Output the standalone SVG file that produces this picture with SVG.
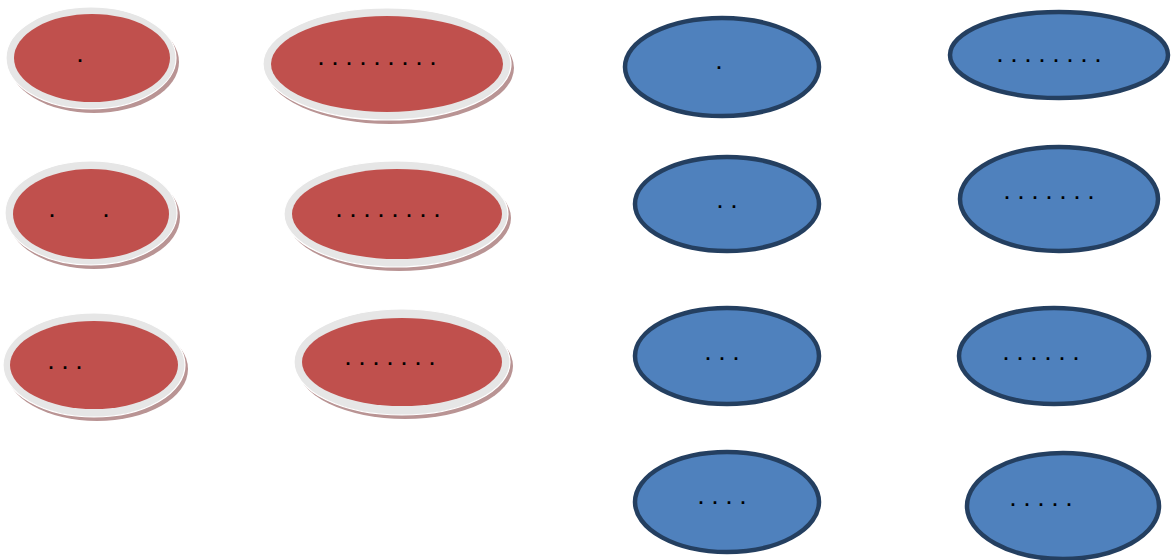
<svg xmlns="http://www.w3.org/2000/svg" width="1172" height="560" viewBox="0 0 1172 560">
<style>
.sh{fill:#b99494}
.ring{fill:#e6e6e6;stroke:#ffffff;stroke-width:1.2}
.red{fill:#c0504d}
.blue{fill:#4f81bd;stroke:#243f60;stroke-width:4.5}
.t{font-family:"Liberation Sans",Arial,sans-serif;font-size:18px;font-weight:bold;fill:#000}
</style>
<rect width="1172" height="560" fill="#ffffff"/>
<g id="connectors"></g>
<g id="r1">
<ellipse class="sh" cx="94" cy="62" rx="85" ry="51"/>
<ellipse class="ring" cx="91" cy="58" rx="85" ry="51"/>
<ellipse class="red" cx="92" cy="58" rx="78" ry="44"/>
<text class="t" x="77.5" y="62">.</text>
</g>
<g id="r2">
<ellipse class="sh" cx="390" cy="68" rx="124" ry="56"/>
<ellipse class="ring" cx="387" cy="64" rx="124" ry="56"/>
<ellipse class="red" cx="387" cy="64" rx="116" ry="48"/>
<text class="t" x="318.5 332.5 346.5 360.5 374.5 388.5 402.5 416.5 430.5" y="65">.........</text>
</g>
<g id="r3">
<ellipse class="sh" cx="94" cy="217" rx="86" ry="52"/>
<ellipse class="ring" cx="91" cy="213" rx="86" ry="52"/>
<ellipse class="red" cx="91" cy="214" rx="78" ry="45"/>
<text class="t" x="49.5 103.5" y="217">..</text>
</g>
<g id="r4">
<ellipse class="sh" cx="399" cy="218" rx="112" ry="53"/>
<ellipse class="ring" cx="396" cy="214" rx="112" ry="53"/>
<ellipse class="red" cx="397" cy="214" rx="105" ry="45"/>
<text class="t" x="336.5 350.5 364.5 378.5 392.5 406.5 420.5 434.5" y="217">........</text>
</g>
<g id="r5">
<ellipse class="sh" cx="97" cy="369" rx="91" ry="52"/>
<ellipse class="ring" cx="94" cy="365" rx="91" ry="52"/>
<ellipse class="red" cx="94" cy="365" rx="84" ry="44"/>
<text class="t" x="48.5 62.5 76.5" y="369">...</text>
</g>
<g id="r6">
<ellipse class="sh" cx="405" cy="366" rx="108" ry="53"/>
<ellipse class="ring" cx="402" cy="362" rx="108" ry="53"/>
<ellipse class="red" cx="402" cy="362" rx="100" ry="44"/>
<text class="t" x="345.5 359.5 373.5 387.5 401.5 415.5 429.5" y="365">.......</text>
</g>
<g id="b1">
<ellipse class="blue" cx="722" cy="67" rx="97" ry="49"/>
<text class="t" x="716.5" y="69">.</text>
</g>
<g id="b2">
<ellipse class="blue" cx="1059" cy="55" rx="109" ry="43"/>
<text class="t" x="997.5 1011.5 1025.5 1039.5 1053.5 1067.5 1081.5 1095.5" y="62">........</text>
</g>
<g id="b3">
<ellipse class="blue" cx="727" cy="204" rx="92" ry="47"/>
<text class="t" x="717.5 731.5" y="208">..</text>
</g>
<g id="b4">
<ellipse class="blue" cx="1059" cy="199" rx="99" ry="52"/>
<text class="t" x="1004.5 1018.5 1032.5 1046.5 1060.5 1074.5 1088.5" y="199">.......</text>
</g>
<g id="b5">
<ellipse class="blue" cx="727" cy="356" rx="92" ry="48"/>
<text class="t" x="705.5 719.5 733.5" y="360">...</text>
</g>
<g id="b6">
<ellipse class="blue" cx="1054" cy="356" rx="95" ry="48"/>
<text class="t" x="1003.5 1017.5 1031.5 1045.5 1059.5 1073.5" y="360">......</text>
</g>
<g id="b7">
<ellipse class="blue" cx="727" cy="502" rx="92" ry="50"/>
<text class="t" x="698.5 712.5 726.5 740.5" y="504">....</text>
</g>
<g id="b8">
<ellipse class="blue" cx="1063" cy="506" rx="96" ry="53"/>
<text class="t" x="1010.5 1024.5 1038.5 1052.5 1066.5" y="506">.....</text>
</g>
</svg>
